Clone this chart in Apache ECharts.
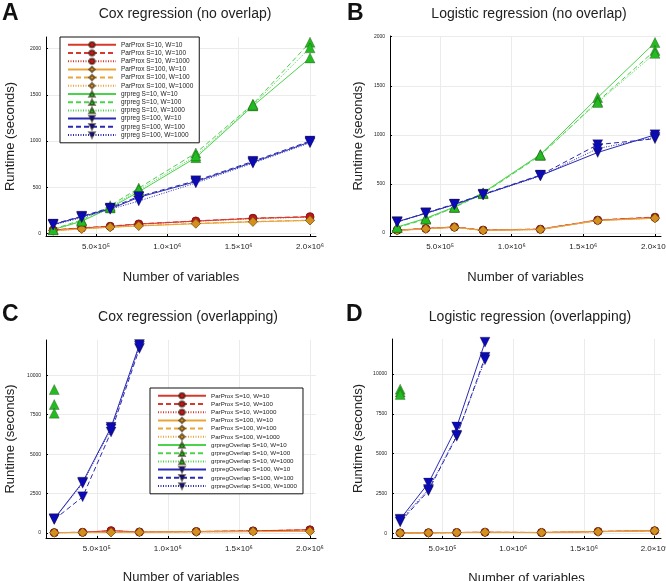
<!DOCTYPE html>
<html>
<head>
<meta charset="utf-8">
<script src="https://cdn.jsdelivr.net/npm/echarts@6/dist/echarts.min.js"></script>
<style>
    html, body { margin: 0; padding: 0; background: #fff; }
    #chart { width: 666px; height: 581px; }
</style>
</head>
<body>
<div id="chart"></div>
<script>
// x positions (number of variables) and tick labels
var xValues = [200000, 400000, 600000, 800000, 1200000, 1600000, 2000000];
var xTickValues = [500000, 1000000, 1500000, 2000000];
var xTickLabels = ['5.0×10⁵', '1.0×10⁶', '1.5×10⁶', '2.0×10⁶'];
var yTicksNoOverlap = [0, 500, 1000, 1500, 2000];
var yTicksOverlap = [0, 2500, 5000, 7500, 10000];

var widthNames = ['W=10', 'W=100', 'W=1000'];
var methodsNoOverlap = ['ParProx S=10', 'ParProx S=100', 'grpreg S=10', 'grpreg S=100'];
var methodsOverlap = ['ParProx S=10', 'ParProx S=100', 'grpregOverlap S=10', 'grpregOverlap S=100'];

// A: Cox regression (no overlap), rows W=10, W=100, W=1000
var coxParProxS10 = [[35, 58, 75, 100, 132, 162, 178], [37, 60, 78, 103, 135, 165, 182], [33, 55, 73, 98, 130, 158, 175]];
var coxParProxS100 = [[28, 48, 66, 80, 105, 125, 140], [30, 50, 68, 83, 108, 128, 143], [27, 47, 65, 79, 103, 123, 138]];
var coxGrpregS10 = [[40, 130, 275, 450, 820, 1380, 1900], [45, 145, 300, 490, 870, 1400, 2070], [38, 135, 285, 470, 840, 1390, 2010]];
var coxGrpregS100 = [[95, 180, 265, 390, 560, 770, 990], [100, 185, 275, 400, 570, 780, 1000], [90, 170, 260, 350, 545, 760, 980]];

// B: Logistic regression (no overlap)
var logParProxS10 = [[28, 45, 60, 28, 38, 130, 158], [30, 46, 62, 30, 40, 133, 162], [27, 44, 59, 27, 37, 128, 156]];
var logParProxS100 = [[25, 42, 57, 26, 35, 126, 150], [26, 43, 58, 27, 36, 128, 152], [24, 41, 56, 25, 34, 125, 149]];
var logGrpregS10 = [[60, 150, 265, 410, 800, 1380, 1940], [55, 140, 260, 400, 790, 1340, 1860], [58, 145, 262, 405, 795, 1330, 1830]];
var logGrpregS100 = [[115, 200, 290, 390, 585, 820, 1000], [110, 205, 295, 395, 590, 900, 960], [112, 200, 288, 388, 580, 860, 975]];

// C: Cox regression (overlapping)
var coxOvParProxS10 = [[20, 40, 150, 60, 90, 130, 200], [22, 42, 140, 62, 92, 135, 205], [18, 38, 130, 58, 88, 128, 195]];
var coxOvParProxS100 = [[15, 30, 35, 45, 70, 85, 100], [16, 31, 37, 46, 72, 88, 104], [14, 29, 34, 44, 69, 83, 98]];
var coxOvGrpregS10 = [[9100, null, null, null, null, null, null], [8150, null, null, null, null, null, null], [7600, null, null, null, null, null, null]];
var coxOvGrpregS100 = [[900, 3220, 6700, 11950, null, null, null], [850, 2290, 6400, 11700, null, null, null], [880, 3150, 6600, 11850, null, null, null]];

// D: Logistic regression (overlapping)
var logOvParProxS10 = [[20, 30, 45, 60, 40, 110, 160], [21, 31, 46, 62, 42, 112, 163], [19, 29, 44, 58, 39, 108, 158]];
var logOvParProxS100 = [[15, 25, 40, 55, 50, 95, 150], [16, 26, 41, 56, 51, 97, 152], [14, 24, 39, 54, 49, 94, 148]];
var logOvGrpregS10 = [[9050, null, null, null, null, null, null], [8870, null, null, null, null, null, null], [8720, null, null, null, null, null, null]];
var logOvGrpregS100 = [[880, 3150, 6680, 12000, null, null, null], [700, 2670, 6090, 11050, null, null, null], [820, 2750, 6150, 10900, null, null, null]];

var FONT = '"Liberation Sans", Arial, sans-serif';

// marker / line style per method (red, orange, green, blue)
var methodStyles = [
    {line: '#d53a2c', fill: '#c4161c', symbol: 'circle', size: 8, rotate: 0},
    {line: '#e9a53c', fill: '#d4901e', symbol: 'diamond', size: 9, rotate: 0},
    {line: '#4cd34c', fill: '#22bb22', symbol: 'triangle', size: 10, rotate: 0},
    {line: '#2a2ab4', fill: '#0a0ab8', symbol: 'triangle', size: 10, rotate: 180}
];
var lineTypes = ['solid', [5, 3], [1, 1.5]];

var panels = [
    {letter: 'A', title: 'Cox regression (no overlap)', methods: methodsNoOverlap,
        data: [coxParProxS10, coxParProxS100, coxGrpregS10, coxGrpregS100], yTicks: yTicksNoOverlap,
        grid: {left: 46, top: 37, width: 270, height: 199}, x: [150000, 2042000], y: [-29, 2127],
        letterPos: [2, 2], titlePos: [185, 14], yNameGap: 29, xNameGap: 35},
    {letter: 'B', title: 'Logistic regression (no overlap)', methods: methodsNoOverlap,
        data: [logParProxS10, logParProxS100, logGrpregS10, logGrpregS100], yTicks: yTicksNoOverlap,
        grid: {left: 390, top: 36, width: 271, height: 200}, x: [150000, 2042000], y: [-31, 2007],
        letterPos: [347, 2], titlePos: [529, 14], yNameGap: 25, xNameGap: 35},
    {letter: 'C', title: 'Cox regression (overlapping)', methods: methodsOverlap,
        data: [coxOvParProxS10, coxOvParProxS100, coxOvGrpregS10, coxOvGrpregS100], yTicks: yTicksOverlap,
        grid: {left: 46, top: 340, width: 270, height: 198}, x: [142000, 2043000], y: [-320, 12240],
        letterPos: [2, 303], titlePos: [188, 317], yNameGap: 29, xNameGap: 33},
    {letter: 'D', title: 'Logistic regression (overlapping)', methods: methodsOverlap,
        data: [logOvParProxS10, logOvParProxS100, logOvGrpregS10, logOvGrpregS100], yTicks: yTicksOverlap,
        grid: {left: 392, top: 339, width: 269, height: 199}, x: [142000, 2045000], y: [-300, 12200],
        letterPos: [346, 303], titlePos: [530, 317], yNameGap: 27, xNameGap: 34}
];

/**
 * 系列名称
 */
function seriesName(method, w) {
    return method + ', ' + widthNames[w];
}

/**
 * 把 y 数组与 xValues 组成点对，去掉空值
 */
function toPairs(values) {
    var out = [];
    for (var i = 0; i < values.length; i++) {
        if (values[i] !== null) out.push([xValues[i], values[i]]);
    }
    return out;
}

function buildAxes(option, p, idx) {
    var g = p.grid;
    option.grid.push({left: g.left, top: g.top, width: g.width, height: g.height, outerBoundsMode: 'none', containLabel: false});
    option.xAxis.push({
        type: 'value', gridIndex: idx, min: p.x[0], max: p.x[1],
        name: 'Number of variables', nameLocation: 'middle', nameGap: p.xNameGap,
        nameTextStyle: {fontFamily: FONT, fontSize: 13, color: '#222'},
        axisLine: {show: true, onZero: false, lineStyle: {color: '#000', width: 1}},
        axisTick: {show: true, inside: true, length: 2, customValues: xTickValues, lineStyle: {color: '#000'}},
        axisLabel: {
            customValues: xTickValues, fontFamily: FONT, fontSize: 8, color: '#222', margin: 7,
            formatter: function (v) { return xTickLabels[xTickValues.indexOf(v)] || ''; }
        },
        splitLine: {show: true, lineStyle: {color: '#ebebeb', width: 1}}
    });
    option.yAxis.push({
        type: 'value', gridIndex: idx, min: p.y[0], max: p.y[1],
        name: 'Runtime (seconds)', nameLocation: 'middle', nameGap: p.yNameGap,
        nameTextStyle: {fontFamily: FONT, fontSize: 13, color: '#222'},
        axisLine: {show: true, onZero: false, lineStyle: {color: '#000', width: 1}},
        axisTick: {show: true, inside: true, length: 2, customValues: p.yTicks, lineStyle: {color: '#000'}},
        axisLabel: {
            customValues: p.yTicks, fontFamily: FONT, fontSize: 5, color: '#222', margin: 5,
            formatter: function (v) { return String(v); }
        },
        splitLine: {show: true, lineStyle: {color: '#ebebeb', width: 1}}
    });
}

function buildSeries(option, p, idx) {
    for (var m = 0; m < 4; m++) {
        var st = methodStyles[m];
        for (var w = 0; w < 3; w++) {
            option.series.push({
                type: 'line', name: seriesName(p.methods[m], w),
                xAxisIndex: idx, yAxisIndex: idx,
                data: toPairs(p.data[m][w]),
                symbol: st.symbol, symbolSize: st.size, symbolRotate: st.rotate,
                showAllSymbol: true, animation: false, silent: true,
                lineStyle: {color: st.line, width: 1, type: lineTypes[w]},
                itemStyle: {color: st.fill, borderColor: 'rgba(40,30,10,0.55)', borderWidth: 0.5}
            });
        }
    }
}

function legendNames(methods) {
    var names = [];
    for (var m = 0; m < 4; m++) for (var w = 0; w < 3; w++) names.push(seriesName(methods[m], w));
    return names;
}

function buildLegend(left, top, names, fontSize) {
    return {
        orient: 'vertical', left: left, top: top, data: names,
        itemWidth: 48, itemHeight: 7, itemGap: 0.6,
        padding: [4, 6, 4, 7], backgroundColor: '#fff', borderColor: '#111', borderWidth: 1,
        selectedMode: false,
        textStyle: {fontFamily: FONT, fontSize: fontSize, color: '#222', lineHeight: 7}
    };
}

function buildText(option, p) {
    option.graphic.push({
        type: 'text', x: p.letterPos[0], y: p.letterPos[1],
        style: {text: p.letter, font: 'bold 23px ' + FONT, fill: '#111'}
    });
    option.graphic.push({
        type: 'text', x: p.titlePos[0], y: p.titlePos[1],
        style: {text: p.title, font: '14px ' + FONT, fill: '#222', textAlign: 'center', textVerticalAlign: 'middle'}
    });
}

function render() {
    var chart = echarts.init(document.getElementById('chart'), null, {renderer: 'canvas'});
    var option = {
        backgroundColor: '#fff', animation: false,
        grid: [], xAxis: [], yAxis: [], series: [], graphic: [],
        legend: [
            buildLegend(60, 37, legendNames(methodsNoOverlap), 6.5),
            buildLegend(150, 388, legendNames(methodsOverlap), 6.2)
        ]
    };
    for (var i = 0; i < panels.length; i++) {
        buildAxes(option, panels[i], i);
        buildSeries(option, panels[i], i);
        buildText(option, panels[i]);
    }
    chart.setOption(option);
}

render();
</script>
</body>
</html>
